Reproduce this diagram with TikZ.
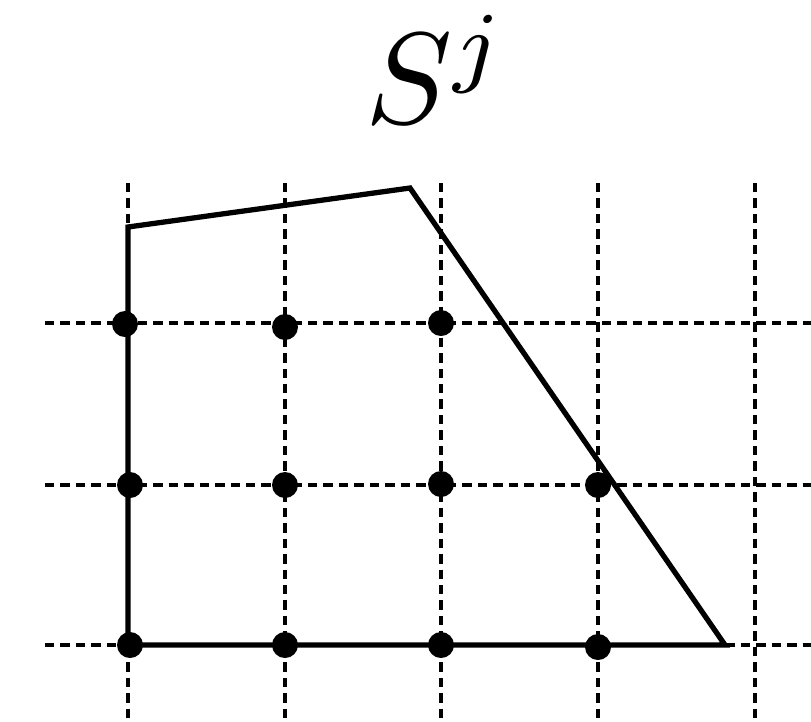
\documentclass[tikz,border=0pt]{standalone}
\usetikzlibrary{positioning}
\tikzset{
  latpt/.style={circle,fill=black,inner sep=0pt,minimum size=0.52cm},
  gridln/.style={line width=1.8pt,dash pattern=on 5.4pt off 3.4pt},
}
\begin{document}
\begin{tikzpicture}[x=0.02cm,y=-0.02cm,
    hull/.style={line width=3pt,line join=miter},
  ]
  \useasboundingbox (0,0) rectangle (811,721);

  % dashed grid
  \foreach \gx in {128,285,441,598,755}
    \draw[gridln] (\gx,183) -- (\gx,721);
  \foreach \gy in {323,485,645}
    \draw[gridln] (45,\gy) -- (811,\gy);

  % the set
  \coordinate (p1) at (128,645);
  \coordinate (p2) at (128,227);
  \coordinate (p3) at (410,188);
  \coordinate (p4) at (725,645);
  \draw[hull] (p1) -- (p2) -- (p3) -- (p4) -- cycle;

  % integer points
  \node[latpt] (a1) at (125,324) {};
  \node[latpt] (a2) at (285,327) {};
  \node[latpt] (a3) at (441,323) {};
  \node[latpt] (b1) at (130,485) {};
  \node[latpt] (b2) at (285,485) {};
  \node[latpt] (b3) at (441,484) {};
  \node[latpt] (b4) at (598,485) {};
  \node[latpt] (c1) at (130,645) {};
  \node[latpt] (c2) at (285,645) {};
  \node[latpt] (c3) at (441,645) {};
  \node[latpt] (c4) at (598,647) {};

  \node[scale=7.4,anchor=base] (title) at (436,123) {$S^j$};
\end{tikzpicture}
\end{document}
